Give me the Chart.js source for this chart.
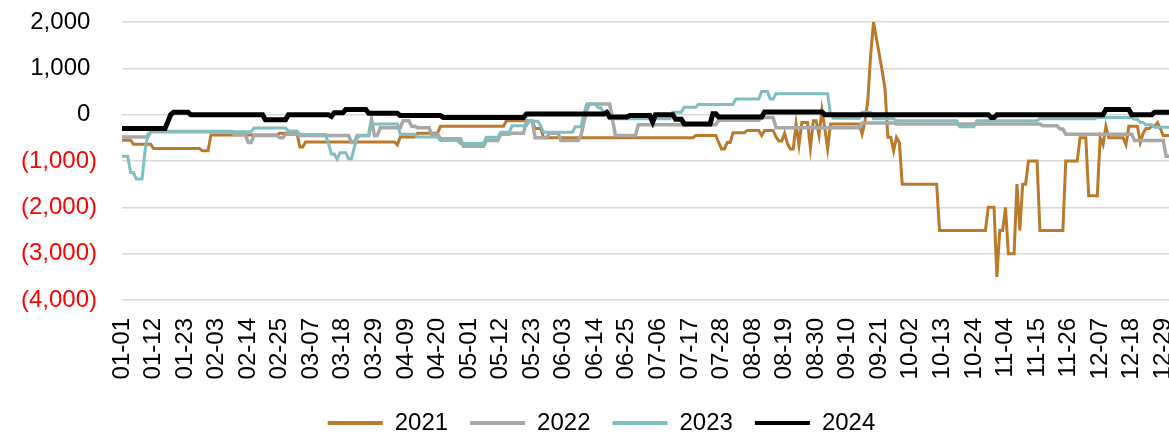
<!DOCTYPE html>
<html>
<head>
<meta charset="utf-8">
<script src="https://cdn.jsdelivr.net/npm/chart.js@4/dist/chart.umd.min.js"></script>
<style>
  body { margin: 0; background: #fff; }
  canvas { display: block; }
</style>
</head>
<body>
<canvas id="grafico" width="1169" height="434"></canvas>
<script>
// dias do ano (2024, bissexto) -> rotulos MM-DD
const monthDays = [31, 29, 31, 30, 31, 30, 31, 31, 30, 31, 30, 31];
const dayLabels = [];
monthDays.forEach((n, m) => {
  for (let d = 1; d <= n; d++) {
    dayLabels.push(String(m + 1).padStart(2, '0') + '-' + String(d).padStart(2, '0'));
  }
});

// cada par = [indice do dia onde comeca, valor] (serie em degraus)
const steps2021 = [[0,-550],[4,-640],[11,-730],[28,-780],[31,-440],[55,-400],[62,-700],[64,-590],[96,-650],[97,-480],[103,-400],[111,-250],[134,-130],[144,-300],[147,-500],[200,-450],[208,-600],[209,-740],[211,-600],[213,-390],[218,-340],[223,-450],[224,-340],[228,-480],[229,-570],[231,-400],[232,-630],[233,-740],[235,-200],[236,-650],[237,-170],[240,-720],[241,-130],[243,-450],[244,100],[245,-300],[246,-740],[247,-200],[258,-420],[259,-150],[260,300],[261,1300],[262,2000],[263,1650],[264,1300],[265,950],[266,550],[267,-490],[269,-780],[270,-490],[271,-600],[272,-1500],[285,-2500],[302,-2000],[305,-3500],[306,-2500],[308,-2000],[309,-3000],[312,-1500],[313,-2500],[314,-1500],[316,-1000],[320,-2500],[329,-1000],[334,-500],[337,-1750],[341,-500],[342,-650],[343,-250],[344,-500],[350,-650],[351,-250],[355,-600],[356,-400],[357,-300],[359,-250],[361,-170],[362,-300],[363,-450]];

const steps2022 = [[0,-480],[10,-370],[39,-430],[44,-600],[46,-450],[55,-500],[57,-420],[62,-450],[80,-600],[82,-450],[87,-100],[88,-450],[90,-280],[98,-130],[101,-250],[103,-280],[108,-420],[111,-520],[119,-680],[127,-560],[132,-420],[136,-400],[141,-130],[144,-500],[149,-400],[153,-560],[160,-450],[161,-170],[162,100],[163,230],[171,-100],[172,-450],[180,-220],[208,-120],[223,-60],[228,-280],[258,-180],[270,-200],[321,-240],[327,-310],[329,-420],[353,-560],[364,-900]];

const steps2023 = [[0,-900],[3,-1250],[5,-1390],[8,-800],[9,-420],[10,-380],[11,-360],[39,-370],[46,-290],[58,-350],[62,-430],[72,-630],[73,-850],[75,-960],[76,-820],[79,-950],[81,-700],[82,-500],[83,-450],[87,-200],[97,-420],[103,-480],[111,-560],[118,-620],[127,-490],[132,-380],[136,-240],[142,-140],[146,-250],[147,-380],[158,-260],[161,0],[162,230],[166,150],[168,0],[170,-90],[192,50],[196,160],[201,220],[214,340],[223,500],[226,340],[228,450],[247,0],[248,-80],[258,50],[262,-90],[270,-130],[292,-260],[298,-130],[320,-90],[340,-60],[353,-100],[355,-170],[357,-220],[360,-270]];

const steps2024 = [[0,-300],[16,-150],[17,0],[18,50],[24,0],[50,-110],[58,0],[73,-40],[74,40],[78,110],[86,30],[97,-20],[112,-60],[141,15],[169,50],[170,-50],[177,-20],[185,-160],[186,0],[193,-100],[196,-200],[206,20],[208,-50],[224,60],[245,0],[303,-60],[305,0],[343,110],[352,0],[360,50]];

const seriesNames = ['2021', '2022', '2023', '2024'];
const seriesColors = ['#B97A2C', '#A8A8A8', '#80BEC1', '#000000'];
const yTicks = [-4000, -3000, -2000, -1000, 0, 1000, 2000];

function expand(steps) {
  const out = [];
  for (let k = 0; k < steps.length; k++) {
    const end = k + 1 < steps.length ? steps[k + 1][0] : dayLabels.length;
    for (let i = steps[k][0]; i < end; i++) out.push(steps[k][1]);
  }
  return out;
}

const fonte = 'Liberation Sans, Arial, sans-serif';
const fmt = v => Math.abs(v).toLocaleString('en-US');

// sem folgas automaticas nas pontas dos eixos
const semFolga = s => { s.paddingLeft = 0; s.paddingRight = 0; s.paddingTop = 0; s.paddingBottom = 0; };

// legenda um pouco deslocada para a direita, como no original
const moveLegenda = {
  id: 'moveLegenda',
  beforeDraw(chart) {
    chart.legend.left = 17;
    chart.legend.right = chart.width + 17;
  }
};

const ctx = document.getElementById('grafico');
new Chart(ctx, {
  type: 'line',
  data: {
    labels: dayLabels,
    datasets: [
      { label: seriesNames[0], data: expand(steps2021), borderColor: seriesColors[0], backgroundColor: seriesColors[0], borderWidth: 3, order: 3 },
      { label: seriesNames[1], data: expand(steps2022), borderColor: seriesColors[1], backgroundColor: seriesColors[1], borderWidth: 3.5, order: 2 },
      { label: seriesNames[2], data: expand(steps2023), borderColor: seriesColors[2], backgroundColor: seriesColors[2], borderWidth: 3, order: 1 },
      { label: seriesNames[3], data: expand(steps2024), borderColor: seriesColors[3], backgroundColor: seriesColors[3], borderWidth: 5, order: 0 }
    ]
  },
  options: {
    responsive: false,
    animation: false,
    devicePixelRatio: 1,
    elements: { point: { radius: 0 }, line: { tension: 0 } },
    layout: { padding: { left: 0, right: 0, top: 22, bottom: -11 } },
    scales: {
      x: {
        offset: false,
        grid: { display: false, drawTicks: false },
        border: { display: false },
        ticks: {
          autoSkip: false,
          minRotation: 90,
          maxRotation: 90,
          padding: 18,
          color: '#000',
          font: { size: 24, family: fonte },
          callback: (v, i) => (i % 11 === 0 ? dayLabels[i] : '')
        },
        afterFit: s => { s.height = 89; semFolga(s); }
      },
      y: {
        min: yTicks[0],
        max: yTicks[yTicks.length - 1],
        afterBuildTicks: s => { s.ticks = yTicks.map(v => ({ value: v })); },
        grid: { color: '#D9D9D9', lineWidth: 1.5, drawTicks: false },
        border: { display: false },
        ticks: {
          padding: 25,
          font: { size: 24, family: fonte },
          color: c => (c.tick && c.tick.value < 0 ? '#FF0000' : '#000000'),
          callback: v => (v < 0 ? '(' + fmt(v) + ')' : fmt(v) + ' ')
        },
        afterFit: s => { s.width = 122; semFolga(s); }
      }
    },
    plugins: {
      tooltip: { enabled: false },
      legend: {
        position: 'bottom',
        labels: {
          boxWidth: 55,
          boxHeight: 4,
          padding: 22,
          color: '#000',
          font: { size: 24, family: fonte },
          sort: (a, b) => a.datasetIndex - b.datasetIndex,
          generateLabels: chart => Chart.defaults.plugins.legend.labels.generateLabels(chart).map(l => Object.assign(l, { lineWidth: 0 }))
        }
      }
    }
  },
  plugins: [moveLegenda]
});
</script>
</body>
</html>
